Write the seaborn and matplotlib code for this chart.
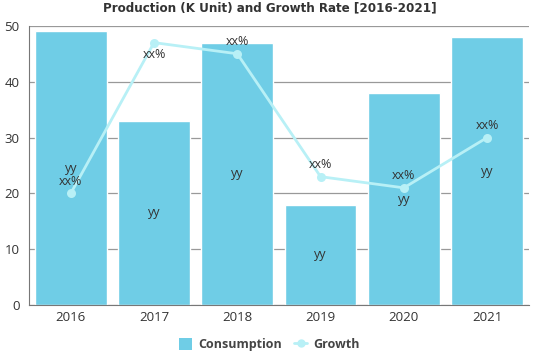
import numpy as np
import pandas as pd
import seaborn as sns
import matplotlib.pyplot as plt
from matplotlib.patches import Patch
from matplotlib.lines import Line2D

years = ['2016', '2017', '2018', '2019', '2020', '2021']
consumption = [49, 33, 47, 18, 38, 48]
growth = [20, 47, 45, 23, 21, 30]
bar_labels = ['yy'] * 6
growth_labels = ['xx%'] * 6

bar_color = '#6fcde6'
line_color = '#b8f0f6'

sns.set_style('white')
plt.rcParams['font.family'] = ['Open Sans', 'DejaVu Sans']

df = pd.DataFrame({'year': years, 'consumption': consumption, 'growth': growth})

fig = plt.figure(figsize=(5.39, 3.59), dpi=100)
ax = fig.add_axes([0.054, 0.150, 0.927, 0.778])

sns.barplot(data=df, x='year', y='consumption', color=bar_color, saturation=1,
            width=0.86, ax=ax, zorder=2)
sns.lineplot(x=np.arange(len(years)), y=growth, color=line_color, linewidth=2,
             marker='o', markersize=6.5, markeredgewidth=0, ax=ax, zorder=3)

for i, (c, g) in enumerate(zip(consumption, growth)):
    ax.text(i, c / 2, bar_labels[i], ha='center', va='center', fontsize=9, color='#333333', zorder=4)
    # labels near the top edge go under the point
    if g >= 46:
        ax.annotate(growth_labels[i], (i, g), xytext=(0, -4), textcoords='offset points',
                    ha='center', va='top', fontsize=9, color='#333333', zorder=4)
    else:
        ax.annotate(growth_labels[i], (i, g), xytext=(0, 4), textcoords='offset points',
                    ha='center', va='bottom', fontsize=9, color='#333333', zorder=4)

ax.set_ylim(0, 50)
ax.set_xlim(-0.5, 5.5)
ax.set_yticks(range(0, 51, 10))
ax.yaxis.grid(True, color='#999999', linewidth=0.9, zorder=0)
ax.set_axisbelow(True)
ax.set_xlabel('')
ax.set_ylabel('')
sns.despine(ax=ax, top=True, right=True)
ax.spines['left'].set_color('#777777')
ax.spines['bottom'].set_color('#777777')
ax.tick_params(axis='y', length=5, color='#777777', labelsize=9.5, labelcolor='#333333', pad=2)
ax.tick_params(axis='x', length=0, labelsize=9.5, labelcolor='#333333', pad=4)

fig.suptitle('Production (K Unit) and Growth Rate [2016-2021]', y=0.995, fontsize=9.5,
             fontweight='bold', fontstretch='condensed', color='#333333',
             family=['DejaVu Sans'])

handles = [Patch(facecolor=bar_color, edgecolor='none'),
           Line2D([0], [0], color=line_color, linewidth=2, marker='o', markersize=5)]
fig.legend(handles, ['Consumption', 'Growth'], loc='lower center', ncol=2, frameon=False,
           bbox_to_anchor=(0.5, -0.01), handlelength=1.0, handleheight=1.0,
           columnspacing=1.0, handletextpad=0.5,
           prop={'weight': 'bold', 'size': 9})
for t in fig.legends[0].get_texts():
    t.set_color('#444444')

fig.savefig('out.png', dpi=100)
